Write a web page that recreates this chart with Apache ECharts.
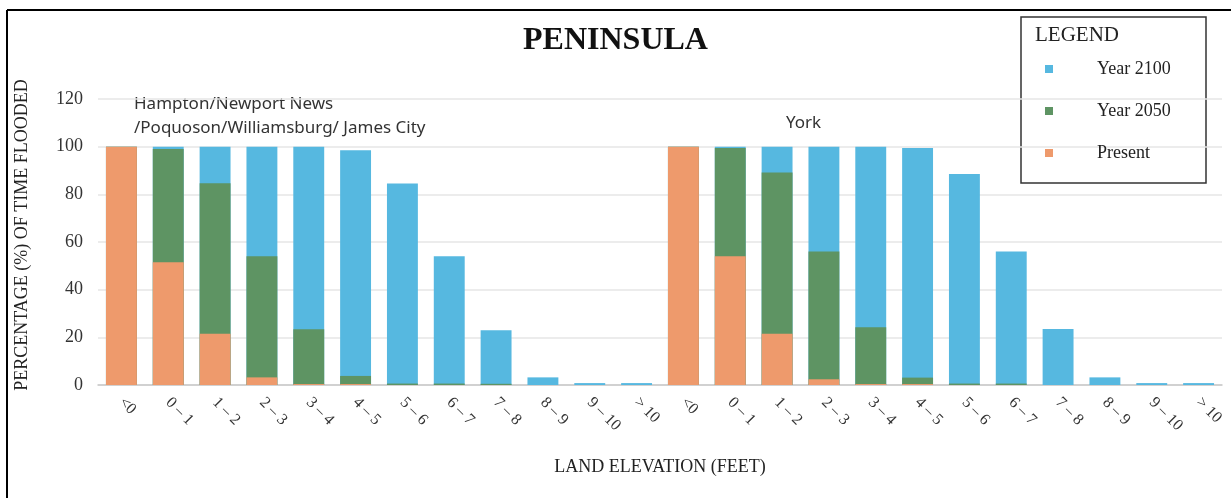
<!DOCTYPE html>
<html>
<head>
<meta charset="utf-8">
<script src="https://cdn.jsdelivr.net/npm/echarts@6/dist/echarts.min.js"></script>
<style>
  html, body { margin: 0; padding: 0; background: #fff; }
  #chart { width: 1231px; height: 498px; }
</style>
</head>
<body>
<div id="chart"></div>
<script>
  // elevation bands, two groups side by side (Hampton… then York)
  var bands = ['<0', '0 – 1', '1 – 2', '2 – 3', '3 – 4', '4 – 5', '5 – 6', '6 – 7', '7 – 8', '8 – 9', '9 – 10', '> 10'];
  var categories = bands.concat(bands);

  // percentage of time flooded
  var year2100 = [100, 100, 100, 100, 100, 98.5, 84.5, 54, 23, 3.2, 0.8, 0.8,
                  100, 100, 100, 100, 100, 99.4, 88.5, 56, 23.5, 3.2, 0.8, 0.8];
  var year2050 = [100, 99, 84.6, 54, 23.4, 3.8, 0.6, 0.6, 0.5, 0, 0, 0,
                  100, 99.4, 89.2, 56, 24.2, 3.1, 0.6, 0.6, 0, 0, 0, 0];
  var present  = [100, 51.5, 21.5, 3.2, 0.4, 0.4, 0, 0, 0, 0, 0, 0,
                  100, 54, 21.5, 2.4, 0.4, 0.4, 0, 0, 0, 0, 0, 0];

  var yTicks = [0, 20, 40, 60, 80, 100, 120];

  var serif = '"Liberation Serif", "DejaVu Serif", serif';
  var sans = '"Noto Sans", "Open Sans", sans-serif';

  var chart = echarts.init(document.getElementById('chart'));

  var option = {
    animation: false,
    title: {
      text: 'PENINSULA',
      left: 'center',
      top: 20,
      textStyle: { fontFamily: serif, fontSize: 32, fontWeight: 'bold', color: '#111' }
    },
    legend: {
      orient: 'vertical',
      left: 1040,
      top: 53,
      itemWidth: 8,
      itemHeight: 8,
      itemGap: 20,
      icon: 'rect',
      data: ['Year 2100', 'Year 2050', 'Present'],
      textStyle: { fontFamily: serif, fontSize: 18, color: '#222', lineHeight: 22, padding: [0, 0, 0, 39] }
    },
    grid: { left: 98, right: 9, top: 99, bottom: 113, containLabel: false },
    xAxis: {
      type: 'category',
      data: categories,
      name: 'LAND ELEVATION (FEET)',
      nameLocation: 'middle',
      nameGap: 73,
      nameTextStyle: { fontFamily: serif, fontSize: 18, color: '#222' },
      axisLine: { lineStyle: { color: '#c8c8c8', width: 1.5 } },
      axisTick: { show: false },
      axisLabel: {
        rotate: -45,
        interval: 0,
        margin: 15,
        fontFamily: serif,
        fontSize: 16,
        color: '#333'
      }
    },
    yAxis: {
      type: 'value',
      min: 0,
      max: 120,
      interval: 20,
      name: 'PERCENTAGE (%) OF TIME FLOODED',
      nameLocation: 'middle',
      nameGap: 67,
      nameRotate: 90,
      nameTextStyle: { fontFamily: serif, fontSize: 18, color: '#222', padding: [0, 0, 0, 14] },
      axisLine: { show: false },
      axisTick: { show: false },
      axisLabel: {
        margin: 15,
        fontFamily: serif,
        fontSize: 18,
        color: '#333',
        formatter: function (v) { return yTicks.indexOf(v) >= 0 ? v : ''; }
      },
      splitLine: { lineStyle: { color: '#e6e6e6', width: 1.5 } }
    },
    graphic: [
      // frame: top and left lines
      { type: 'line', shape: { x1: 7, y1: 10, x2: 1231, y2: 10 }, style: { stroke: '#000', lineWidth: 2 } },
      { type: 'line', shape: { x1: 7, y1: 10, x2: 7, y2: 498 }, style: { stroke: '#000', lineWidth: 2 } },
      // legend box
      { type: 'rect', shape: { x: 1021, y: 17, width: 185, height: 166 },
        style: { fill: '#fff', stroke: '#333', lineWidth: 1.5 }, z: -1 },
      { type: 'text', left: 1035, top: 25,
        style: { text: 'LEGEND', font: '21px ' + serif, fill: '#222' } },
      // group labels
      { type: 'text', left: 134, top: 92,
        style: { text: 'Hampton/Newport News\n/Poquoson/Williamsburg/ James City', font: '17px ' + sans, fill: '#333', lineHeight: 24 } },
      { type: 'text', left: 786, top: 115,
        style: { text: 'York', font: '17px ' + sans, fill: '#333' } }
    ],
    series: [
      { name: 'Year 2100', type: 'bar', data: year2100, barWidth: '66%', barGap: '-100%', itemStyle: { color: '#56b8e0' }, z: 1 },
      { name: 'Year 2050', type: 'bar', data: year2050, barWidth: '66%', barGap: '-100%', itemStyle: { color: '#5e9463' }, z: 2 },
      { name: 'Present', type: 'bar', data: present, barWidth: '66%', barGap: '-100%', itemStyle: { color: '#ee9a6c' }, z: 3 }
    ]
  };

  chart.setOption(option);
</script>
</body>
</html>
